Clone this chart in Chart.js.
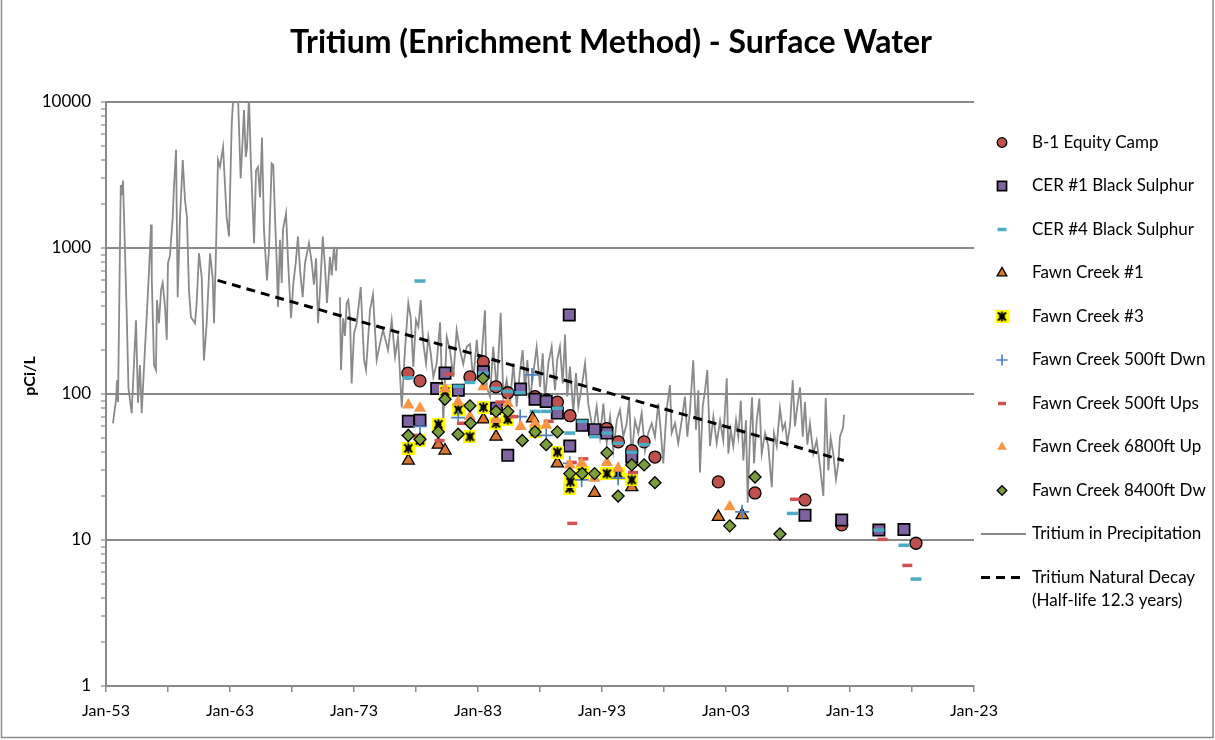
<!DOCTYPE html>
<html>
<head>
<meta charset="utf-8">
<script src="https://cdn.jsdelivr.net/npm/chart.js@4.4.1/dist/chart.umd.min.js"></script>
<style>
html,body{margin:0;padding:0;background:#fff;}
#wrap{position:relative;width:1215px;height:740px;}
canvas{display:block;}
</style>
</head>
<body>
<div id="wrap"><canvas id="c" width="1215" height="740"></canvas></div>
<script>
// ---------- DATA ----------
const chartTitle = 'Tritium (Enrichment Method) - Surface Water';
const yAxisTitle = 'pCi/L';
const xTickYears = [1953, 1963, 1973, 1983, 1993, 2003, 2013, 2023];
const xTickLabels = ['Jan-53', 'Jan-63', 'Jan-73', 'Jan-83', 'Jan-93', 'Jan-03', 'Jan-13', 'Jan-23'];
const yTickLabels = [1, 10, 100, 1000, 10000];

const seriesNames = ['B-1 Equity Camp', 'CER #1 Black Sulphur', 'CER #4 Black Sulphur', 'Fawn Creek #1',
  'Fawn Creek #3', 'Fawn Creek 500ft Dwn', 'Fawn Creek 500ft Ups', 'Fawn Creek 6800ft Up',
  'Fawn Creek 8400ft Dw', 'Tritium in Precipitation', 'Tritium Natural Decay'];
const decayNote = '(Half-life 12.3 years)';

const b1 = [[1977.35,139],[1978.32,123],[1982.35,131],[1983.43,166],[1984.45,112],[1985.4,102],[1987.6,96],
  [1988.54,91],[1989.4,88],[1990.42,71],[1993.38,58],[1994.32,47],[1995.4,41],[1996.39,47],[1997.27,37],
  [2002.38,25],[2005.34,21],[2009.37,18.8],[2012.33,12.7],[2018.32,9.5]];
const cer1 = [[1977.38,65],[1978.32,66],[1979.67,109],[1980.34,139],[1981.41,106],[1983.43,142],[1984.5,80],
  [1985.4,38],[1986.44,108],[1987.6,92],[1988.5,89],[1989.4,74],[1990.36,348],[1990.4,44],[1991.4,61],
  [1992.4,57],[1993.4,54],[1995.4,37],[2009.37,14.8],[2012.33,13.7],[2015.33,11.7],[2017.35,11.8]];
const cer4 = [[1977.38,129],[1978.32,594],[1980.34,113],[1981.41,113],[1982.35,120],[1983.43,139],[1984.45,109],
  [1985.4,104],[1986.39,102],[1987.6,76],[1988.5,76],[1989.4,80],[1990.4,54],[1991.4,65],[1992.4,51],
  [1993.4,54],[1994.3,46],[1995.4,40],[1996.4,45],[2008.35,15.2],[2015.33,11.7],[2017.35,9.2],[2018.32,5.4]];
const fc1 = [[1977.38,35],[1979.8,45],[1980.34,41],[1983.43,67],[1984.45,51],[1987.4,68],[1989.4,33.5],
  [1992.4,21],[1995.4,23],[2002.38,14.4],[2004.3,14.8]];
const fc3 = [[1977.38,42.5],[1978.32,48],[1979.8,62],[1980.34,104],[1981.41,78],[1982.35,51],[1983.43,81],
  [1984.45,63],[1985.4,67],[1987.6,55],[1989.4,40],[1990.4,22.6],[1990.45,25],[1991.4,29],[1993.4,28.5],
  [1994.3,28.5],[1995.4,25.8]];
const fc500d = [[1977.38,52],[1978.32,60],[1981.4,69],[1986.4,70],[1987.35,135],[1988.5,52],[1990.4,33.5],
  [1991.36,25.8],[1994.3,26.5],[2004.3,15.6]];
const fc500u = [[1977.8,52],[1979.9,48],[1980.69,137],[1981.7,63],[1984.8,88],[1985.85,70],[1988.7,65],
  [1990.55,34],[1990.6,13],[1991.5,36],[1995.5,29],[2008.56,19],[2015.63,10.1],[2017.62,6.7]];
const fc6800 = [[1977.38,84],[1978.32,80],[1980.34,108],[1981.4,88],[1982.35,70],[1983.43,112],[1984.45,67],
  [1985.4,86],[1986.44,60],[1987.6,63],[1988.5,61],[1990.4,32.7],[1991.36,33.5],[1992.4,26.5],[1993.4,34],
  [1994.3,31],[2003.3,16.9]];
const fc8400 = [[1977.38,52],[1978.32,49],[1979.8,55],[1980.34,92],[1981.4,53],[1982.35,83],[1982.4,63],
  [1983.4,128],[1984.45,76],[1985.4,76],[1986.57,48],[1987.6,55],[1988.5,45],[1989.4,55],[1990.4,28.5],
  [1991.4,28.5],[1992.4,28.5],[1993.4,39.5],[1994.3,20],[1995.4,32.7],[1996.4,32.7],[1997.27,24.7],
  [2003.3,12.5],[2005.34,27],[2007.35,11]];
const decay = [[1962.0,600],[2012.5,35]];

const precip = [[1953.56,63],[1953.81,91],[1953.89,124],[1953.97,88],[1954.19,2700],[1954.25,2300],[1954.37,2900],
  [1954.53,960],[1954.69,300],[1954.81,110],[1955.07,74],[1955.42,320],[1955.58,87],[1955.74,158],[1955.88,74],
  [1956.15,210],[1956.28,335],[1956.47,700],[1956.63,1450],[1956.69,630],[1956.87,158],[1957.03,146],[1957.11,440],
  [1957.27,305],[1957.44,515],[1957.57,575],[1957.76,395],[1957.90,235],[1958.00,790],[1958.16,890],[1958.38,1620],
  [1958.48,2620],[1958.65,4700],[1958.78,460],[1958.97,1620],[1959.19,4000],[1959.37,2140],[1959.53,1620],
  [1959.69,515],[1959.85,335],[1960.02,320],[1960.18,305],[1960.31,420],[1960.50,920],[1960.72,630],[1960.90,170],
  [1961.12,305],[1961.39,920],[1961.60,630],[1961.71,305],[1961.87,960],[1962.03,4000],[1962.19,3600],
  [1962.44,4900],[1962.73,1620],[1962.92,1200],[1963.14,7100],[1963.24,10000],[1963.48,14000],[1963.65,10500],
  [1963.86,3000],[1964.02,5500],[1964.13,8800],[1964.27,4200],[1964.37,4800],[1964.53,11000],[1964.67,4200],
  [1964.94,1080],[1965.10,3400],[1965.26,3600],[1965.42,2220],[1965.58,5700],[1965.74,1330],[1965.98,600],
  [1966.15,1000],[1966.36,3800],[1966.49,3700],[1966.63,1620],[1966.77,790],[1966.87,395],[1967.03,1140],
  [1967.17,575],[1967.27,1330],[1967.52,1730],[1967.68,820],[1967.92,330],[1968.11,575],[1968.30,790],
  [1968.48,1200],[1968.65,700],[1968.86,460],[1969.05,790],[1969.21,920],[1969.37,1080],[1969.59,790],
  [1969.77,560],[1969.94,850],[1970.10,305],[1970.26,515],[1970.48,1200],[1970.66,750],[1970.82,420],
  [1971.06,870],[1971.20,650],[1971.39,1020],[1971.55,700],[1971.63,1000],[1971.75,null],
  [1971.87,460],[1971.95,146],[1972.13,330],[1972.27,250],[1972.41,420],[1972.54,440],[1972.68,330],
  [1972.81,118],[1973.00,260],[1973.22,305],[1973.54,540],[1973.81,171],[1973.97,146],[1974.29,376],
  [1974.53,480],[1974.83,171],[1975.10,222],[1975.34,275],[1975.74,200],[1976.04,321],[1976.31,180],
  [1976.55,245],[1976.85,81],[1977.11,200],[1977.38,420],[1977.57,338],[1977.78,154],[1978.00,321],
  [1978.19,289],[1978.38,440],[1978.59,222],[1978.81,162],[1978.99,247],[1979.19,190],[1979.40,131],
  [1979.67,162],[1979.94,310],[1980.20,63],[1980.48,247],[1980.74,200],[1981.01,131],[1981.28,274],
  [1981.55,200],[1981.81,160],[1982.09,211],[1982.35,220],[1982.62,125],[1982.90,235],[1983.16,125],
  [1983.56,375],[1983.70,111],[1983.97,96],[1984.23,211],[1984.51,106],[1984.83,360],[1985.04,96],
  [1985.31,125],[1985.58,86],[1985.85,162],[1986.12,82],[1986.39,146],[1986.60,200],[1986.79,106],
  [1986.98,171],[1987.19,91],[1987.46,139],[1987.73,210],[1988.00,112],[1988.22,190],[1988.40,91],
  [1988.67,162],[1988.94,211],[1989.21,106],[1989.39,171],[1989.61,211],[1989.83,118],[1990.02,255],
  [1990.20,96],[1990.42,154],[1990.69,74],[1990.90,139],[1991.09,82],[1991.36,112],[1991.63,162],
  [1991.90,85],[1992.17,63],[1992.30,57],[1992.57,82],[1992.84,51],[1993.11,86],[1993.38,46],[1993.65,70],
  [1993.91,41],[1994.19,66],[1994.45,78],[1994.72,51],[1994.99,63],[1995.19,91],[1995.39,37],[1995.66,66],
  [1995.93,54],[1996.20,74],[1996.47,41],[1996.73,54],[1997.01,63],[1997.27,51],[1997.54,86],[1997.73,57],
  [1997.94,33.5],[1998.21,78],[1998.48,115],[1998.62,54],[1998.89,63],[1999.15,46],[1999.43,66],[1999.69,96],
  [1999.88,51],[2000.10,78],[2000.36,170],[2000.58,57],[2000.77,106],[2000.90,29],[2001.12,82],[2001.31,106],
  [2001.49,146],[2001.71,44],[2001.98,70],[2002.25,46],[2002.52,66],[2002.78,48],[2003.06,128],[2003.19,39],
  [2003.38,57],[2003.59,44],[2003.81,66],[2003.99,51],[2004.19,90],[2004.40,35],[2004.61,66],[2004.75,18],
  [2004.94,54],[2005.10,95],[2005.26,33.5],[2005.48,66],[2005.69,93],[2005.88,39],[2006.15,54],[2006.41,44],
  [2006.69,23],[2006.87,54],[2007.09,44],[2007.35,80],[2007.57,57],[2007.76,63],[2007.94,46],[2008.16,60],
  [2008.38,124],[2008.56,60],[2008.75,82],[2008.97,111],[2009.19,51],[2009.37,88],[2009.56,45],[2009.77,63],
  [2010.04,39],[2010.31,48],[2010.58,32],[2010.85,20],[2011.04,94],[2011.25,30],[2011.44,50],[2011.65,39],
  [2011.87,26],[2012.06,33.5],[2012.19,51],[2012.44,59],[2012.52,72]];

// ---------- STYLES ----------
function starCanvas() {
  const c = document.createElement('canvas');
  c.width = 13; c.height = 13;
  const g = c.getContext('2d');
  g.fillStyle = '#FFFF00';
  g.fillRect(0, 0, 13, 13);
  g.strokeStyle = '#000';
  g.lineWidth = 1.9;
  g.beginPath();
  g.moveTo(2.5, 2.5); g.lineTo(10.5, 10.5);
  g.moveTo(10.5, 2.5); g.lineTo(2.5, 10.5);
  g.moveTo(6.5, 1.5); g.lineTo(6.5, 11.5);
  g.moveTo(3.5, 6.5); g.lineTo(9.5, 6.5);
  g.stroke();
  return c;
}
const STAR = starCanvas();
const toXY = arr => arr.map(p => ({x: p[0], y: p[1]}));

function pts(name, data, style, radius, fill, border, bw, order) {
  return {
    label: name, data: toXY(data), showLine: false, order: order,
    pointStyle: style, pointRadius: radius, pointHoverRadius: radius,
    pointBackgroundColor: fill, pointBorderColor: border, pointBorderWidth: bw,
    backgroundColor: fill, borderColor: border, borderWidth: bw
  };
}

const datasets = [
  pts(seriesNames[0], b1, 'circle', 6, '#C0504D', '#000', 1.3, 9),
  pts(seriesNames[1], cer1, 'rect', 8, '#8064A2', '#000', 1.7, 8),
  pts(seriesNames[2], cer4, 'line', 5.5, '#4BACC6', '#4BACC6', 3.5, 7),
  pts(seriesNames[3], fc1, 'triangle', 7, '#D8752E', '#000', 1.3, 6),
  pts(seriesNames[4], fc3, STAR, 6.5, '#FFFF00', '#000', 0, 5),
  pts(seriesNames[5], fc500d, 'cross', 7, '#4F81BD', '#4F81BD', 1.7, 4),
  pts(seriesNames[6], fc500u, 'line', 5, '#D25252', '#D25252', 3.5, 3),
  pts(seriesNames[7], fc6800, 'triangle', 7, '#F79646', '#F79646', 0, 2),
  pts(seriesNames[8], fc8400, 'rectRot', 6, '#7A9D3E', '#000', 1.3, 1),
  {label: seriesNames[9], data: toXY(precip), showLine: true, pointRadius: 0, borderColor: '#8A8A8A',
   borderWidth: 1.8, backgroundColor: '#8A8A8A', spanGaps: false, order: 20, tension: 0},
  {label: seriesNames[10], data: toXY(decay), showLine: true, pointRadius: 0, borderColor: '#000',
   borderWidth: 3, borderDash: [9, 6], backgroundColor: '#000', order: 15}
];

const FONT = 'Lato, "Open Sans", sans-serif';
const GRID = '#898989';

const overlay = {
  id: 'overlay',
  afterDraw(chart) {
    const ctx = chart.ctx;
    ctx.save();
    // frame
    ctx.strokeStyle = '#8C8C8C';
    ctx.lineWidth = 1.5;
    ctx.beginPath();
    ctx.moveTo(1.5, 0); ctx.lineTo(1.5, 737.5); ctx.lineTo(1213, 737.5); ctx.lineTo(1213, 0);
    ctx.stroke();
    // title
    ctx.fillStyle = '#000';
    ctx.textAlign = 'center';
    ctx.textBaseline = 'middle';
    ctx.font = 'bold 32px ' + FONT;
    ctx.fillText(chartTitle, 611, 43);
    // y axis title
    ctx.save();
    ctx.translate(30, 376);
    ctx.rotate(-Math.PI / 2);
    ctx.font = 'bold 16px ' + FONT;
    ctx.fillText(yAxisTitle, 0, 0);
    ctx.restore();
    // legend
    const x0 = 1002, tx = 1032, y0 = 142.5, dy = 43.5;
    ctx.textAlign = 'left';
    ctx.font = '17px ' + FONT;
    chart.data.datasets.forEach((ds, i) => {
      const y = y0 + i * dy;
      if (ds.showLine) {
        ctx.save();
        ctx.strokeStyle = ds.borderColor;
        ctx.lineWidth = ds.borderWidth;
        ctx.setLineDash(ds.borderDash || []);
        ctx.beginPath();
        ctx.moveTo(981, y); ctx.lineTo(1026, y);
        ctx.stroke();
        ctx.restore();
      } else {
        ctx.save();
        ctx.fillStyle = ds.pointBackgroundColor;
        ctx.strokeStyle = ds.pointBorderColor;
        ctx.lineWidth = ds.pointBorderWidth;
        Chart.helpers.drawPoint(ctx, {pointStyle: ds.pointStyle, radius: ds.pointRadius * 0.8, rotation: 0,
          borderWidth: ds.pointBorderWidth}, x0, y);
        ctx.restore();
      }
      ctx.fillStyle = '#000';
      ctx.fillText(ds.label, tx, y);
      if (i === chart.data.datasets.length - 1) ctx.fillText(decayNote, tx, y + 23);
    });
    ctx.restore();
  }
};

const yMinor = [];
for (let e = 0; e < 4; e++) for (let m = 1; m < 10; m++) yMinor.push(m * Math.pow(10, e));
yMinor.push(10000);
const xTicks = [];
for (let v = xTickYears[0]; v <= xTickYears[xTickYears.length - 1]; v += 5) xTicks.push(v);

new Chart(document.getElementById('c'), {
  type: 'scatter',
  data: {datasets},
  plugins: [overlay],
  options: {
    responsive: false,
    devicePixelRatio: 1,
    animation: false,
    events: [],
    layout: {padding: {top: 102, right: 241, left: 0, bottom: 0}},
    plugins: {legend: {display: false}, tooltip: {enabled: false}, title: {display: false}},
    scales: {
      x: {
        type: 'linear', min: 1953, max: 2023,
        afterFit: s => { s.height = 54; },
        afterBuildTicks: s => { s.ticks = xTicks.map(v => ({value: v})); },
        ticks: {
          autoSkip: false, maxRotation: 0, padding: 9,
          color: '#000', font: {family: FONT, size: 16},
          callback: v => { const i = xTickYears.indexOf(v); return i >= 0 ? xTickLabels[i] : ''; }
        },
        grid: {color: 'rgba(0,0,0,0)', tickColor: GRID, tickLength: 6, drawOnChartArea: false, lineWidth: 1.5},
        border: {display: true, color: GRID, width: 2}
      },
      y: {
        type: 'logarithmic', min: 1, max: 10000,
        afterFit: s => { s.width = 106; },
        afterBuildTicks: s => { s.ticks = yMinor.map(v => ({value: v})); },
        ticks: {
          autoSkip: false, padding: 10, color: '#000', font: {family: FONT, size: 17},
          callback: v => yTickLabels.includes(v) ? String(v) : ''
        },
        grid: {
          color: c => yTickLabels.includes(c.tick && c.tick.value) && c.tick.value !== 1 ? GRID : 'rgba(0,0,0,0)',
          lineWidth: 2, tickColor: GRID, tickLength: 5, tickWidth: 1.2
        },
        border: {display: true, color: GRID, width: 2}
      }
    }
  }
});
</script>
</body>
</html>
